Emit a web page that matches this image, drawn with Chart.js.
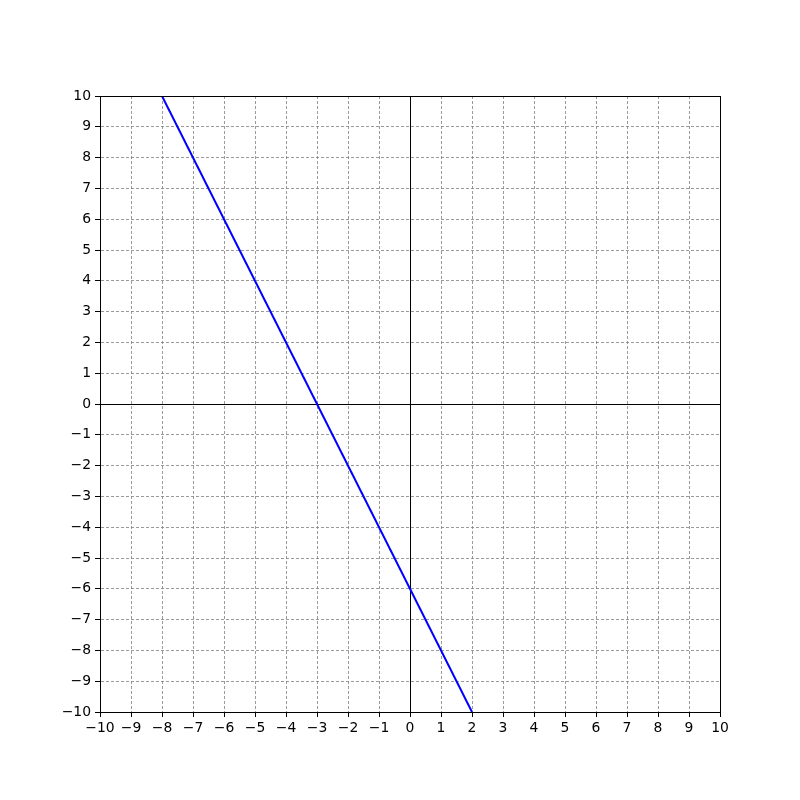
<!DOCTYPE html>
<html>
<head>
<meta charset="utf-8">
<script src="https://cdn.jsdelivr.net/npm/chart.js@4/dist/chart.umd.min.js"></script>
<style>
  body { margin: 0; background: #fff; }
  canvas { display: block; }
</style>
</head>
<body>
<canvas id="lineChart" width="800" height="800"></canvas>
<script>
// line y = -2x - 6, clipped to the box
const xValues = [-8, 2];
const yValues = [10, -10];
const axisMin = -10;
const axisMax = 10;

const points = xValues.map((x, i) => ({ x: x, y: yValues[i] }));

function minusLabel(v) {
    return v < 0 ? '\u2212' + Math.abs(v) : String(v);
}

// frame around plot + black lines through the origin
const frameAndAxes = {
    id: 'frameAndAxes',
    beforeDatasetsDraw(chart) {
        const ctx = chart.ctx;
        const area = chart.chartArea;
        const xs = chart.scales.x;
        const ys = chart.scales.y;
        ctx.save();
        ctx.strokeStyle = '#000';
        ctx.lineWidth = 1;
        ctx.setLineDash([]);
        const x0 = Math.round(xs.getPixelForValue(0)) + 0.5;
        const y0 = Math.round(ys.getPixelForValue(0)) + 0.5;
        ctx.beginPath();
        ctx.moveTo(x0, area.top);
        ctx.lineTo(x0, area.bottom);
        ctx.moveTo(area.left, y0);
        ctx.lineTo(area.right, y0);
        ctx.stroke();
        ctx.restore();
    },
    afterDraw(chart) {
        const ctx = chart.ctx;
        const a = chart.chartArea;
        ctx.save();
        ctx.strokeStyle = '#000';
        ctx.lineWidth = 1;
        ctx.strokeRect(Math.round(a.left) + 0.5, Math.round(a.top) + 0.5,
            Math.round(a.right - a.left), Math.round(a.bottom - a.top));
        ctx.restore();
    }
};

const tickFont = { family: 'DejaVu Sans', size: 13.9 };

new Chart(document.getElementById('lineChart').getContext('2d'), {
    type: 'scatter',
    data: {
        datasets: [{
            data: points,
            showLine: true,
            borderColor: '#0000ff',
            borderWidth: 2,
            pointRadius: 0,
            fill: false
        }]
    },
    options: {
        responsive: false,
        animation: false,
        layout: { padding: { top: 96, right: 80, left: 0, bottom: 0 } },
        plugins: {
            legend: { display: false },
            tooltip: { enabled: false }
        },
        scales: {
            x: {
                type: 'linear',
                min: axisMin,
                max: axisMax,
                afterFit: (scale) => { scale.height = 88; },
                ticks: {
                    stepSize: 1,
                    color: '#000',
                    font: tickFont,
                    padding: 3,
                    maxRotation: 0,
                    autoSkip: false,
                    callback: minusLabel
                },
                grid: {
                    color: '#808080',
                    lineWidth: 0.8,
                    tickColor: '#000',
                    tickWidth: 1,
                    tickLength: 5,
                    tickBorderDash: []
                },
                border: { color: '#000', dash: [3, 2] }
            },
            y: {
                type: 'linear',
                min: axisMin,
                max: axisMax,
                afterFit: (scale) => { scale.width = 100; },
                ticks: {
                    stepSize: 1,
                    color: '#000',
                    font: tickFont,
                    padding: 4,
                    autoSkip: false,
                    callback: minusLabel
                },
                grid: {
                    color: '#808080',
                    lineWidth: 0.8,
                    tickColor: '#000',
                    tickWidth: 1,
                    tickLength: 5,
                    tickBorderDash: []
                },
                border: { color: '#000', dash: [3, 2] }
            }
        }
    },
    plugins: [frameAndAxes]
});
</script>
</body>
</html>
